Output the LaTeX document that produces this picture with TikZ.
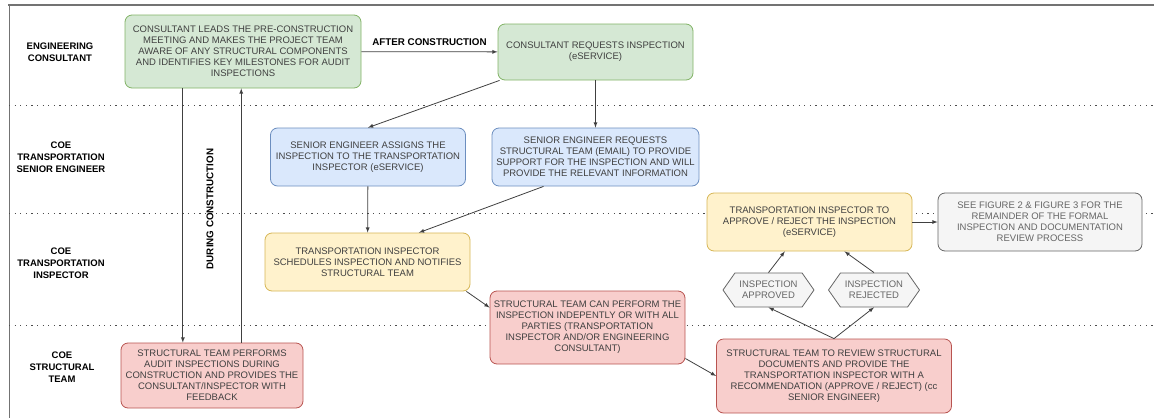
\documentclass[tikz,border=0pt]{standalone}
\usepackage{fontspec}
\setmainfont{Liberation Sans}
\usepackage{tikz}
\usetikzlibrary{shapes,arrows}
\usetikzlibrary{calc}

\definecolor{consultfill}{HTML}{D5E8D4}
\definecolor{consultline}{HTML}{82B366}
\definecolor{seniorfill}{HTML}{DAE8FC}
\definecolor{seniorline}{HTML}{6C8EBF}
\definecolor{inspectfill}{HTML}{FFF2CC}
\definecolor{inspectline}{HTML}{D6B656}
\definecolor{teamfill}{HTML}{F8CECC}
\definecolor{teamline}{HTML}{B85450}
\definecolor{notefill}{HTML}{F5F5F5}
\definecolor{noteline}{HTML}{666666}

\begin{document}
\begin{tikzpicture}[%
  x=1pt,y=-1pt,
  box/.style={rectangle,draw,line width=0.8pt,rounded corners=7pt,align=center,
    inner sep=2pt,text=black!75,font=\fontsize{9.5}{11}\selectfont},
  consult/.style={box,fill=consultfill,draw=consultline},
  senior/.style={box,fill=seniorfill,draw=seniorline},
  inspect/.style={box,fill=inspectfill,draw=inspectline},
  team/.style={box,fill=teamfill,draw=teamline},
  note/.style={box,fill=notefill,draw=noteline,text=black!60},
  outcome/.style={signal,signal to=east and west,signal pointer angle=110,draw=noteline,
    fill=notefill,line width=0.8pt,align=center,inner sep=1pt,text=black!60,
    minimum width=91pt,minimum height=34pt,font=\fontsize{9.5}{11}\selectfont},
  lane/.style={align=center,font=\fontsize{9.5}{12}\selectfont\bfseries},
  phase/.style={font=\fontsize{9.8}{11}\selectfont\bfseries},
  link/.style={->,>=latex,draw=black!75,line width=0.8pt},
  sep/.style={draw=black!70,line width=0.9pt,dash pattern=on 1.2pt off 4.4pt}]
    \useasboundingbox (0,0) rectangle (1154,418);
    % Swimlanes
    \draw[black!55,line width=2.5pt] (8,5) -- (1154,5);
    \draw[black!55,line width=1pt] (9,5) -- (9,418);
    \draw[sep] (9,105) -- (1154,105);
    \draw[sep] (9,213) -- (1154,213);
    \draw[sep] (9,325) -- (1154,325);
    \node[lane] (laneconsult) at (60,52) {ENGINEERING\\CONSULTANT};
    \node[lane] (lanesenior) at (61,157) {COE\\TRANSPORTATION\\SENIOR ENGINEER};
    \node[lane] (laneinspect) at (61,263) {COE\\TRANSPORTATION\\INSPECTOR};
    \node[lane] (laneteam) at (62,367) {COE\\STRUCTURAL\\TEAM};
    % Steps
    \node[consult,minimum width=236pt,minimum height=73pt] (premeet) at (243,51.5)
      {CONSULTANT LEADS THE PRE-CONSTRUCTION\\MEETING AND MAKES THE PROJECT TEAM\\AWARE OF ANY STRUCTURAL COMPONENTS\\AND IDENTIFIES KEY MILESTONES FOR AUDIT\\INSPECTIONS};
    \node[consult,minimum width=195pt,minimum height=56pt] (request) at (595.5,52)
      {CONSULTANT REQUESTS INSPECTION\\(eSERVICE)};
    \node[senior,minimum width=195pt,minimum height=58pt] (assign) at (368,157)
      {SENIOR ENGINEER ASSIGNS THE\\INSPECTION TO THE TRANSPORTATION\\INSPECTOR (eSERVICE)};
    \node[senior,minimum width=207pt,minimum height=58pt] (support) at (595.5,157)
      {SENIOR ENGINEER REQUESTS\\STRUCTURAL TEAM (EMAIL) TO PROVIDE\\SUPPORT FOR THE INSPECTION AND WILL\\PROVIDE THE RELEVANT INFORMATION};
    \node[inspect,minimum width=205pt,minimum height=58pt] (schedule) at (367.5,262)
      {TRANSPORTATION INSPECTOR\\SCHEDULES INSPECTION AND NOTIFIES\\STRUCTURAL TEAM};
    \node[team,minimum width=195pt,minimum height=73pt] (perform) at (587.5,327.5)
      {STRUCTURAL TEAM CAN PERFORM THE\\INSPECTION INDEPENTLY OR WITH ALL\\PARTIES (TRANSPORTATION\\INSPECTOR AND/OR ENGINEERING\\CONSULTANT)};
    \node[team,minimum width=182pt,minimum height=65pt] (audit) at (212,375.5)
      {STRUCTURAL TEAM PERFORMS\\AUDIT INSPECTIONS DURING\\CONSTRUCTION AND PROVIDES THE\\CONSULTANT/INSPECTOR WITH\\FEEDBACK};
    \node[inspect,minimum width=205pt,minimum height=58pt] (decide) at (809.5,222)
      {TRANSPORTATION INSPECTOR TO\\APPROVE / REJECT THE INSPECTION\\(eSERVICE)};
    \node[note,minimum width=204pt,minimum height=58pt] (remainder) at (1040,222)
      {SEE FIGURE 2 \& FIGURE 3 FOR THE\\REMAINDER OF THE FORMAL\\INSPECTION AND DOCUMENTATION\\REVIEW PROCESS};
    \node[team,minimum width=235pt,minimum height=74pt] (review) at (834,376)
      {STRUCTURAL TEAM TO REVIEW STRUCTURAL\\DOCUMENTS AND PROVIDE THE\\TRANSPORTATION INSPECTOR WITH A\\RECOMMENDATION (APPROVE / REJECT) (cc\\SENIOR ENGINEER)};
    \node[outcome] (approved) at (768.5,290) {INSPECTION\\APPROVED};
    \node[outcome] (rejected) at (874,290) {INSPECTION\\REJECTED};
    % Links
    \draw[link] (premeet) -- node[midway,above=2pt,phase] (after) {AFTER CONSTRUCTION} (request);
    \draw[link] ($(premeet.south west)!0.246!(premeet.south east)$) coordinate (down) -- (down |- audit.north);
    \draw[link] ($(audit.north west)!0.66!(audit.north east)$) coordinate (up) -- (up |- premeet.south);
    \node[phase,rotate=90] (during) at (210,209) {DURING CONSTRUCTION};
    \draw[link] ([xshift=2pt]request.south west) -- (assign.north);
    \draw[link] (request) -- (support);
    \draw[link] (assign) -- (schedule);
    \draw[link] ($(support.south west)!0.25!(support.south east)$) -- ($(schedule.north west)!0.75!(schedule.north east)$);
    \draw[link] ([xshift=-4pt]schedule.south east) -- ($(perform.north west)!0.23!(perform.south west)$);
    \draw[link] ($(perform.north east)!0.92!(perform.south east)$) -- (review.west);
    \draw[link] (review.north) -- (approved.south);
    \draw[link] (review.north) -- (rejected.south);
    \draw[link] (approved.north) -- ($(decide.south west)!0.38!(decide.south east)$);
    \draw[link] (rejected.north) -- ($(decide.south west)!0.67!(decide.south east)$);
    \draw[link] (decide) -- (remainder);
\end{tikzpicture}
\end{document}
